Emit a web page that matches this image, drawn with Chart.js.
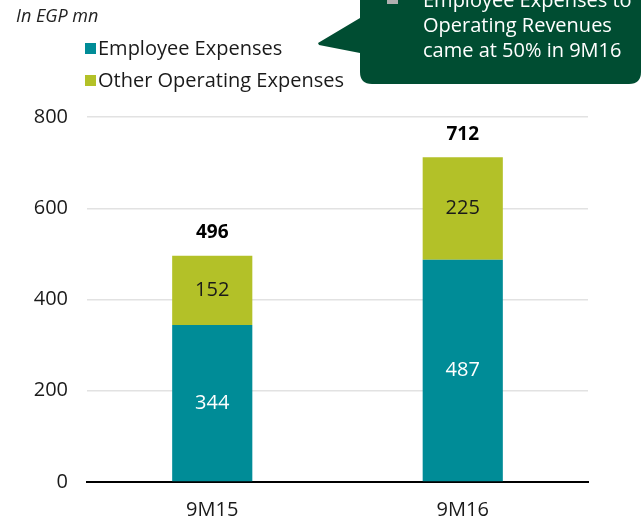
<!DOCTYPE html>
<html>
<head>
<meta charset="utf-8">
<script src="https://cdn.jsdelivr.net/npm/chart.js@4.4.0/dist/chart.umd.min.js"></script>
<style>
html,body{margin:0;padding:0;background:#fff;}
#wrap{width:642px;height:519px;position:relative;}
</style>
</head>
<body>
<div id="wrap"><canvas id="c" width="642" height="519"></canvas></div>
<script>
const categories = ['9M15', '9M16'];
const employeeExpenses = [344, 487];
const otherOperatingExpenses = [152, 225];
const totals = [496, 712];
const yTicks = [0, 200, 400, 600, 800];
const seriesNames = ['Employee Expenses', 'Other Operating Expenses'];
const unitLabel = 'In EGP mn';
const calloutLines = ['Employee Expenses to', 'Operating Revenues', 'came at 50% in 9M16'];

const TEAL = '#008C97';
const OLIVE = '#B3C128';
const FONT = '"Open Sans", "Noto Sans", sans-serif';

const labelsPlugin = {
  id: 'labels',
  afterDatasetsDraw(chart) {
    const ctx = chart.ctx;
    ctx.save();
    ctx.textAlign = 'center';
    ctx.textBaseline = 'middle';
    chart.data.datasets.forEach((ds, di) => {
      const meta = chart.getDatasetMeta(di);
      meta.data.forEach((bar, i) => {
        const mid = (bar.y + bar.base) / 2;
        ctx.font = '20px ' + FONT;
        ctx.fillStyle = di === 0 ? '#ffffff' : '#1a1a1a';
        ctx.fillText(String(ds.data[i]), bar.x, mid);
      });
    });
    const topMeta = chart.getDatasetMeta(chart.data.datasets.length - 1);
    topMeta.data.forEach((bar, i) => {
      ctx.font = 'bold 19px ' + FONT;
      ctx.fillStyle = '#000';
      ctx.fillText(String(totals[i]), bar.x, bar.y - 23);
    });
    ctx.restore();
  }
};

const decoPlugin = {
  id: 'deco',
  afterDraw(chart) {
    const ctx = chart.ctx;
    ctx.save();
    ctx.font = 'italic 18px ' + FONT;
    ctx.fillStyle = '#222';
    ctx.textBaseline = 'middle';
    ctx.textAlign = 'left';
    ctx.fillText(unitLabel, 16, 17);
    chart.data.datasets.forEach((ds, i) => {
      const y = 49 + i * 32;
      ctx.fillStyle = ds.backgroundColor;
      ctx.fillRect(85, y - 6, 11, 11);
      ctx.fillStyle = '#1a1a1a';
      ctx.font = '20px ' + FONT;
      ctx.fillText(ds.label, 98, y);
    });
    const green = '#004D32';
    ctx.fillStyle = green;
    const L = 360, R = 641, T = -20, B = 84, r = 12;
    ctx.beginPath();
    ctx.moveTo(L, T);
    ctx.lineTo(R, T);
    ctx.lineTo(R, B - r);
    ctx.quadraticCurveTo(R, B, R - r, B);
    ctx.lineTo(L + r, B);
    ctx.quadraticCurveTo(L, B, L, B - r);
    ctx.lineTo(L, 53);
    ctx.lineTo(319, 45);
    ctx.lineTo(318, 43);
    ctx.lineTo(L, 18);
    ctx.closePath();
    ctx.fill();
    ctx.fillStyle = '#b0b0b0';
    ctx.fillRect(387, -7, 11, 11);
    ctx.fillStyle = '#ffffff';
    ctx.font = '20px ' + FONT;
    calloutLines.forEach((t, i) => {
      ctx.fillText(t, 423, 1 + i * 25);
    });
    ctx.restore();
  }
};

new Chart(document.getElementById('c'), {
  type: 'bar',
  data: {
    labels: categories,
    datasets: [
      { label: seriesNames[0], data: employeeExpenses, backgroundColor: TEAL, borderWidth: 0, categoryPercentage: 1, barPercentage: 0.32 },
      { label: seriesNames[1], data: otherOperatingExpenses, backgroundColor: OLIVE, borderWidth: 0, categoryPercentage: 1, barPercentage: 0.32 }
    ]
  },
  options: {
    responsive: false,
    animation: false,
    events: [],
    layout: { padding: { left: 0, right: 54, top: 117, bottom: 0 } },
    plugins: { legend: { display: false }, tooltip: { enabled: false } },
    scales: {
      x: {
        stacked: true,
        grid: { display: false },
        border: { display: true, color: '#000', width: 2 },
        ticks: { color: '#1a1a1a', font: { family: FONT, size: 20 }, padding: 8 },
        afterFit(s) { s.height = 37; }
      },
      y: {
        stacked: true,
        min: 0,
        max: 800,
        afterBuildTicks(s) { s.ticks = yTicks.map(v => ({ value: v })); },
        grid: { color: '#e2e2e2', lineWidth: 1.5, drawTicks: false },
        border: { display: false },
        ticks: { color: '#1a1a1a', font: { family: FONT, size: 20 }, padding: 19 },
        afterFit(s) { s.width = 87; }
      }
    }
  },
  plugins: [labelsPlugin, decoPlugin]
});
</script>
</body>
</html>
